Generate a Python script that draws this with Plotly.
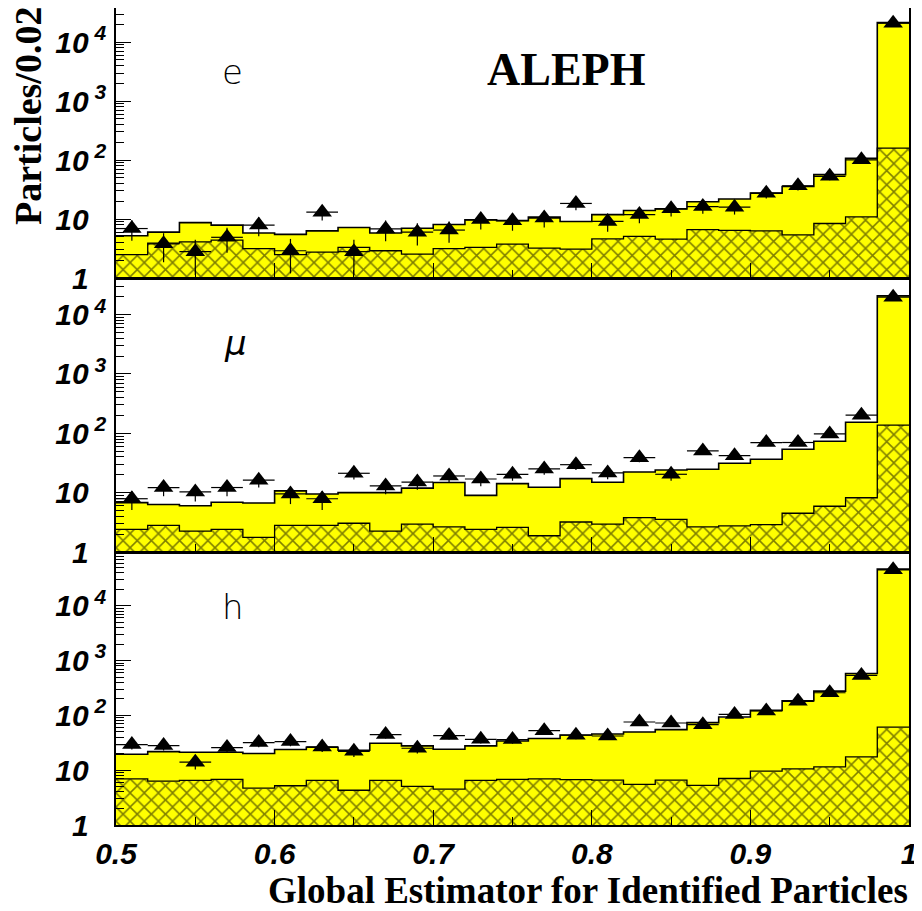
import numpy as np
import plotly.graph_objects as go

# ---------------- data ----------------
bin_edges = [0.50, 0.52, 0.54, 0.56, 0.58, 0.60, 0.62, 0.64, 0.66, 0.68, 0.70, 0.72, 0.74,
             0.76, 0.78, 0.80, 0.82, 0.84, 0.86, 0.88, 0.90, 0.92, 0.94, 0.96, 0.98, 1.00]
bin_centers = [0.51, 0.53, 0.55, 0.57, 0.59, 0.61, 0.63, 0.65, 0.67, 0.69, 0.71, 0.73, 0.75,
               0.77, 0.79, 0.81, 0.83, 0.85, 0.87, 0.89, 0.91, 0.93, 0.95, 0.97, 0.99]
bin_width = 0.02

# electrons
tot_e = [5.2, 6.0, 8.7, 7.9, 5.8, 5.5, 6.3, 7.2, 5.8, 7.0, 8.1, 9.7, 9.4, 10.8, 9.1, 11.9,
         14.0, 14.9, 19.6, 21.9, 27.5, 35.7, 56.6, 107, 21500]
bkg_e = [2.5, 3.9, 4.1, 4.4, 3.15, 2.5, 2.75, 3.3, 2.9, 2.55, 3.15, 3.3, 3.75, 3.2, 3.1, 4.6,
         5.1, 4.55, 6.6, 6.4, 6.3, 5.4, 8.4, 10.9, 160]
dat_e = [6.9, 3.8, 2.8, 4.9, 7.9, 2.9, 13.1, 2.8, 6.8, 6.0, 6.5, 9.8, 9.4, 10.4, 18.4, 9.1,
         11.9, 14.9, 16.3, 15.9, 27.5, 36.7, 53, 101, 21000]

# muons
tot_m = [6.8, 6.3, 6.0, 6.9, 6.7, 10.7, 9.5, 10.0, 10.0, 11.9, 14.8, 9.0, 14.2, 12.3, 17.2,
         15.0, 22.3, 24.1, 24.8, 31.3, 36.6, 54, 73.6, 154, 20700]
bkg_m = [2.4, 2.8, 2.25, 2.4, 1.77, 2.8, 2.8, 3.05, 2.25, 2.95, 2.65, 2.4, 2.6, 1.88, 3.2,
         2.95, 3.8, 3.55, 2.65, 2.75, 2.9, 4.5, 5.9, 8.2, 137]
dat_m = [7.9, 12.2, 10.3, 12.2, 16.2, 9.5, 7.9, 21.2, 13.0, 15.1, 19.1, 17.0, 20.4, 25.1, 29.6,
         21.5, 38.9, 20.4, 50.5, 42, 69.7, 70, 97.7, 202, 19700]

# hadrons
tot_h = [19.5, 21.8, 21.2, 21.2, 20.1, 23.8, 26.2, 23.1, 31, 27.7, 24.1, 27.7, 34.1, 37.7, 43.9,
         45.7, 49.8, 54.8, 73.6, 93, 123, 185, 277, 580, 46500]
bkg_h = [6.95, 6.3, 6.5, 6.8, 4.7, 5.2, 6.5, 4.3, 6.5, 5.05, 4.5, 6.5, 6.8, 6.95, 6.7, 6.6,
         5.5, 6.6, 5.3, 7.05, 9.6, 10.6, 11.5, 17.5, 61]
dat_h = [29.3, 28.1, 14.0, 25.8, 31.9, 33.2, 26.5, 22.1, 44.5, 25.1, 42.7, 36.6, 36.2, 52.6, 43.3,
         42, 75.6, 72.5, 67.7, 104, 120, 180, 258, 534, 45100]

panels = [
    dict(tot=tot_e, bkg=bkg_e, dat=dat_e, label="e", yrange=[0, 4.58]),
    dict(tot=tot_m, bkg=bkg_m, dat=dat_m, label="\u03bc", yrange=[0, 4.60]),
    dict(tot=tot_h, bkg=bkg_h, dat=dat_h, label="h", yrange=[0, 4.97]),
]

x_tickvals = [0.5, 0.6, 0.7, 0.8, 0.9, 1.0]
x_ticktext = ["0.5", "0.6", "0.7", "0.8", "0.9", "1"]
y_tickvals = [1, 10, 100, 1000, 10000]
NB = "\u00a0"
y_ticktext = ["1" + "<sup>" + NB * 3 + "</sup>", "10<sup>" + NB * 3 + "</sup>",
              "10<sup>" + NB + "2</sup>", "10<sup>" + NB + "3</sup>", "10<sup>" + NB + "4</sup>"]

YELLOW = "#ffff00"

fig = go.Figure()

# page body has an 8px margin: figure coordinates = page coordinates - 8
FIG_W, FIG_H = 914, 903
ML, MR, MT, MB = 108, 13, 0, 86

plot_h = FIG_H - MT - MB
# panel boundaries (page px): 8-278, 279-552, 552-825
def dom(top_page, bot_page):
    return [(825 - bot_page) / plot_h, (825 - top_page) / plot_h]
domains = [dom(8, 278), dom(279, 552), dom(552.5, 825)]

for i, p in enumerate(panels):
    xa = "x" if i == 0 else f"x{i+1}"
    ya = "y" if i == 0 else f"y{i+1}"
    fig.add_trace(go.Bar(x=bin_centers, y=p["tot"], width=bin_width, xaxis=xa, yaxis=ya,
                         marker=dict(color=YELLOW, line=dict(width=0)), showlegend=False,
                         hoverinfo="skip"))
    fig.add_trace(go.Bar(x=bin_centers, y=p["bkg"], width=bin_width, xaxis=xa, yaxis=ya,
                         marker=dict(color=YELLOW, line=dict(width=0),
                                     pattern=dict(shape="x", fgcolor="black", bgcolor=YELLOW,
                                                  size=10, solidity=0.28)),
                         showlegend=False, hoverinfo="skip"))
    fig.add_trace(go.Scatter(x=bin_edges, y=p["tot"] + [p["tot"][-1]], mode="lines",
                             line=dict(color="black", width=1.6, shape="hv"),
                             xaxis=xa, yaxis=ya, showlegend=False, hoverinfo="skip"))
    fig.add_trace(go.Scatter(x=bin_edges, y=p["bkg"] + [p["bkg"][-1]], mode="lines",
                             line=dict(color="black", width=1.3, shape="hv"),
                             xaxis=xa, yaxis=ya, showlegend=False, hoverinfo="skip"))
    err = list(np.sqrt(np.array(p["dat"], dtype=float)))
    fig.add_trace(go.Scatter(x=bin_centers, y=p["dat"], mode="markers",
                             marker=dict(symbol="triangle-up", size=17, color="black"),
                             error_y=dict(type="data", array=err, color="black", thickness=1.2, width=0),
                             error_x=dict(type="constant", value=bin_width / 2, color="black",
                                          thickness=1.2, width=0),
                             xaxis=xa, yaxis=ya, showlegend=False))

tickfont_y = dict(family="Liberation Sans", size=30, color="black", weight="bold", style="italic")
tickfont_x = dict(family="Liberation Sans", size=30, color="black", weight="bold", style="italic")

layout = dict(
    width=FIG_W, height=FIG_H,
    margin=dict(l=ML, r=MR, t=MT, b=MB),
    paper_bgcolor="white", plot_bgcolor="white",
    barmode="overlay", bargap=0,
)

for i, p in enumerate(panels):
    xk = "xaxis" if i == 0 else f"xaxis{i+1}"
    yk = "yaxis" if i == 0 else f"yaxis{i+1}"
    ya = "y" if i == 0 else f"y{i+1}"
    xa = "x" if i == 0 else f"x{i+1}"
    layout[xk] = dict(
        anchor=ya, domain=[0, 1], range=[0.5, 1.0], automargin=False,
        showline=True, linecolor="black", linewidth=1.5, mirror=True,
        showgrid=False, zeroline=False,
        tickvals=x_tickvals, ticktext=x_ticktext, ticks="inside", ticklen=15,
        tickcolor="black", tickwidth=1,
        minor=dict(dtick=0.05, tick0=0.5, ticks="inside", ticklen=8, tickcolor="black", showgrid=False),
        showticklabels=(i == 2), tickfont=tickfont_x, ticklabelstandoff=1,
        matches="x" if i > 0 else None,
    )
    layout[yk] = dict(
        anchor=xa, domain=domains[i], type="log", range=p["yrange"], automargin=False,
        showline=True, linecolor="black", linewidth=1.5, mirror=True,
        showgrid=False, zeroline=False,
        tickvals=y_tickvals, ticktext=y_ticktext, ticks="inside", ticklen=15,
        tickcolor="black", tickwidth=1,
        minor=dict(dtick="D1", ticks="inside", ticklen=8, tickcolor="black", showgrid=False),
        tickfont=tickfont_y, ticklabelstandoff=2,
    )

fig.update_layout(**layout)

# annotation positions given in page pixels of the reference
L, R, T, B = 116, 909, 8, 825
def px(xp):
    return (xp - L) / (R - L)
def py(yp):
    return (B - yp) / (B - T)

label_pos = [(232, 72, "normal"), (235, 343, "italic"), (233, 607, "normal")]
for p, (lx, ly, st) in zip(panels, label_pos):
    fig.add_annotation(x=px(lx), y=py(ly), xref="paper", yref="paper", text=p["label"],
                       showarrow=False, xanchor="center", yanchor="middle",
                       font=dict(family="DejaVu Sans", size=34, color="black", weight=200, style=st))

fig.add_annotation(x=px(566), y=py(70), xref="paper", yref="paper", text="ALEPH",
                   showarrow=False, xanchor="center", yanchor="middle",
                   font=dict(family="Liberation Serif", size=46, color="black", weight="bold"))

fig.add_annotation(x=px(910), y=py(890), xref="paper", yref="paper",
                   text="Global Estimator for Identified Particles",
                   showarrow=False, xanchor="right", yanchor="middle",
                   font=dict(family="Liberation Serif", size=37, color="black", weight="bold"))

fig.add_annotation(x=px(28), y=py(116), xref="paper", yref="paper", text="Particles/0.02",
                   showarrow=False, xanchor="center", yanchor="middle", textangle=-90,
                   font=dict(family="Liberation Serif", size=38, color="black", weight="bold"))

fig.write_html("out.html")
